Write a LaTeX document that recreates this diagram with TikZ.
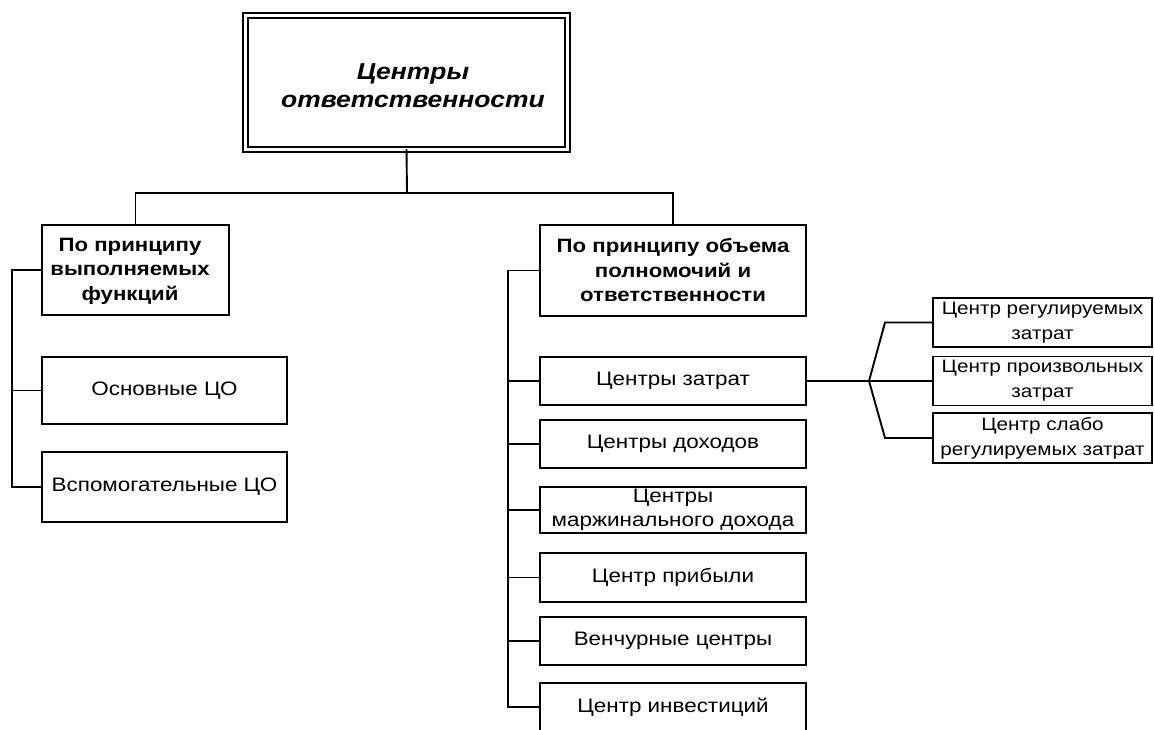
\documentclass[tikz,border=0pt]{standalone}
\usepackage{fontspec}
\setmainfont{Liberation Sans}[FakeStretch=1.15]
\begin{document}
\begin{tikzpicture}[x=1pt,y=-1pt,
  every node/.style={inner sep=0pt, outer sep=0pt},
  box/.style={draw, line width=1.9pt, align=center, font=\fontsize{19.5}{24}\selectfont},
  headbox/.style={box, font=\bfseries\fontsize{19.3}{24.5}\selectfont},
  headtext/.style={align=center, font=\bfseries\fontsize{19.3}{24.5}\selectfont},
  listbox/.style={box, minimum width=266pt},
  subbox/.style={box, minimum width=219pt, font=\fontsize{18}{25}\selectfont},
  link/.style={line width=1.9pt}]
\clip (0,0) rectangle (1154,730);
\fill[white] (0,0) rectangle (1154,730);

% root: double-ruled frame with its title set slightly off centre
\node[draw, double, double distance=3.2pt, line width=1.7pt,
      minimum width=322pt, minimum height=133.5pt] (top) at (406.5,82.5) {};
\node[align=center, font=\bfseries\itshape\fontsize{23}{28.5}\selectfont]
      (toptext) at (413,85.5) {Центры\\ответственности};

% left branch
\node[box, minimum width=187pt, minimum height=90pt] (lh) at (135.5,270) {};
\node[headtext] (lhtext) at (130,271) {По принципу\\выполняемых\\функций};
\node[box, minimum width=245pt, minimum height=67pt] (main) at (164.5,390.5) {Основные ЦО};
\node[box, minimum width=245pt, minimum height=70pt] (aux) at (164.5,487) {Вспомогательные ЦО};

% right branch
\node[headbox, minimum width=266pt, minimum height=91pt] (rh) at (673,270.5) {По принципу объема\\полномочий и\\ответственности};
\node[listbox, minimum height=48pt] (zat) at (673,381) {Центры затрат};
\node[listbox, minimum height=48pt] (doh) at (673,444) {Центры доходов};
\node[listbox, minimum height=46pt] (marg) at (673,510) {Центры\\маржинального дохода};
\node[listbox, minimum height=49pt] (prib) at (673,577.5) {Центр прибыли};
\node[listbox, minimum height=48pt] (ven) at (673,641) {Венчурные центры};
\node[listbox, minimum height=48pt] (inv) at (673,707) {Центр инвестиций};

% cost centre kinds
\node[subbox, minimum height=49pt] (r1) at (1042.5,322.5) {Центр регулируемых\\затрат};
\node[subbox, minimum height=49pt] (r2) at (1042.5,381) {Центр произвольных\\затрат};
\node[subbox, minimum height=50pt] (r3) at (1042.5,438) {Центр слабо\\регулируемых затрат};

% connectors
\coordinate (hub) at (407,193);
\draw[link] (top.south) -- (hub);
\draw[link] (lh.north) |- (hub) -| (rh.north);

\coordinate (lt) at (12,271);
\draw[link] (lh.west) -- (lh.west -| lt) |- (aux.west);
\draw[link] (main.west) -- (main.west -| lt);

\coordinate (rt) at (508,270);
\draw[link] (rh.west) -- (rh.west -| rt) |- (inv.west);
\foreach \n in {zat,doh,marg,prib,ven}
  \draw[link] (\n.west) -- (\n.west -| rt);

\coordinate (fork) at (869,381);
\coordinate (b1) at (885,322.5);
\coordinate (b3) at (885,438);
\draw[link] (zat.east) -- (fork) -- (r2.west);
\draw[link] (fork) -- (b1) -- (r1.west);
\draw[link] (fork) -- (b3) -- (r3.west);
\end{tikzpicture}
\end{document}
